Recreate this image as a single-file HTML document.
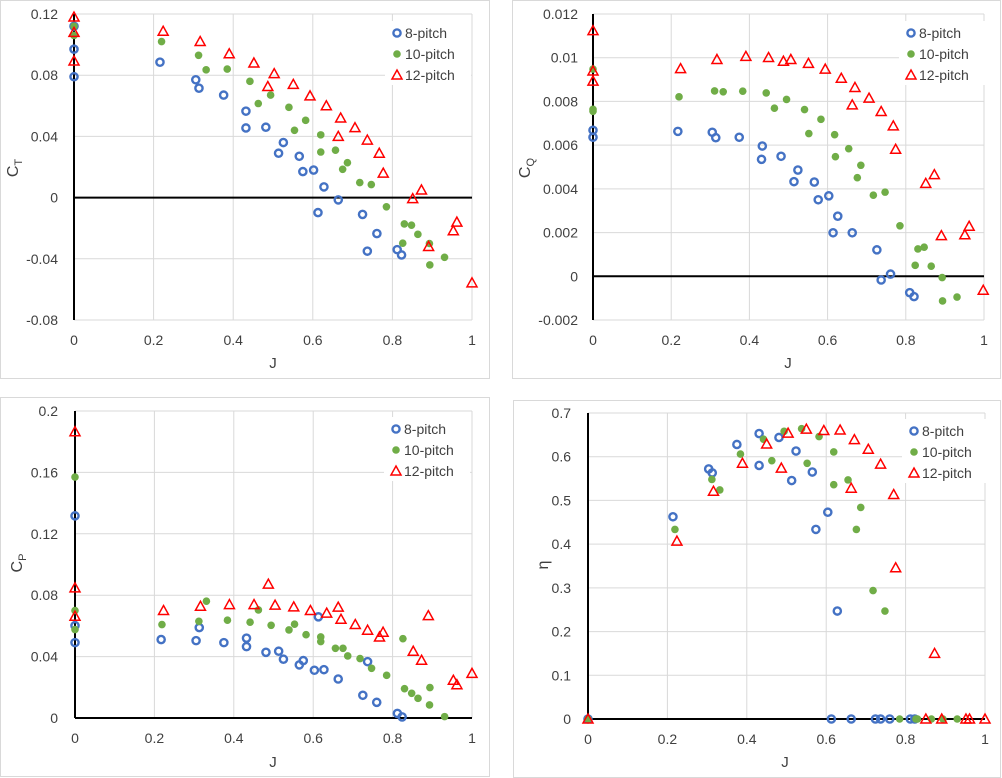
<!DOCTYPE html>
<html><head><meta charset="utf-8"><style>
html,body{margin:0;padding:0;background:#fff;}
svg{display:block;font-family:"Liberation Sans",Calibri,sans-serif;}
</style></head><body>
<svg id="root" width="1002" height="778" viewBox="0 0 1002 778" xmlns="http://www.w3.org/2000/svg"></svg>
<script>
// ---- CT chart data ----
const ctB_J=[0,0,0,.216,.306,.314,.376,.432,.432,.482,.514,.526,.566,.575,.602,.628,.613,.664,.725,.737,.761,.812,.823];
const ctB_V=[.112,.097,.079,.0885,.077,.0715,.067,.0565,.0455,.046,.029,.036,.027,.017,.018,.007,-.0098,-.0015,-.011,-.035,-.0235,-.034,-.0375];
const ctG_J=[0,0,.22,.313,.332,.385,.442,.463,.494,.540,.554,.582,.620,.620,.657,.675,.687,.718,.747,.785,.830,.848,.826,.864,.893,.894,.931];
const ctG_V=[.112,.106,.102,.093,.0835,.084,.076,.0615,.067,.059,.044,.0505,.041,.0298,.031,.0185,.0228,.0098,.0085,-.006,-.0172,-.018,-.0298,-.024,-.030,-.044,-.039];
const ctR_J=[0,0,0,.224,.317,.390,.452,.487,.503,.551,.593,.634,.670,.664,.706,.737,.767,.777,.851,.873,.891,.953,.962,1.0];
const ctR_V=[.118,.108,.0893,.1087,.102,.094,.088,.0726,.081,.074,.0665,.060,.052,.040,.0457,.0376,.029,.016,-.0007,.005,-.032,-.0217,-.016,-.0557];
const ctTicks=["-0.08","-0.04","0","0.04","0.08","0.12"];
// ---- CQ chart data ----
const cqB_J=[0,0,.217,.305,.314,.374,.433,.431,.481,.524,.514,.566,.576,.603,.626,.614,.663,.726,.737,.761,.810,.821];
const cqB_V=[.00668,.00636,.00663,.00659,.00634,.00636,.00596,.00535,.00549,.00486,.00433,.00431,.0035,.00368,.00275,.00199,.00199,.00121,-.00017,.0001,-.00075,-.00093];
const cqG_J=[0,0,0,.220,.311,.333,.383,.443,.464,.495,.541,.552,.583,.618,.620,.654,.676,.685,.717,.747,.785,.831,.847,.824,.865,.893,.894,.931];
const cqG_V=[.00948,.00764,.00755,.00821,.00848,.00844,.00847,.00839,.00769,.00809,.00763,.00653,.00718,.00648,.00547,.00584,.00451,.00508,.00371,.00385,.00231,.00125,.00133,.0005,.00046,-.00006,-.00113,-.00095];
const cqR_J=[0,0,0,.224,.317,.391,.449,.487,.506,.551,.594,.635,.670,.663,.706,.737,.768,.774,.851,.873,.891,.951,.962,.998];
const cqR_V=[.01124,.00939,.00893,.0095,.00992,.01006,.01001,.00984,.00992,.00974,.00948,.00906,.00864,.00784,.00815,.00754,.00688,.00581,.00425,.00465,.00186,.0019,.00229,-.00064];
const cqTicks=["-0.002","0","0.002","0.004","0.006","0.008","0.01","0.012"];
// ---- CP chart data ----
const cpB_J=[0,0,0,.217,.305,.313,.375,.432,.432,.481,.513,.525,.565,.575,.603,.627,.613,.663,.725,.737,.760,.812,.824];
const cpB_V=[.1317,.0602,.0491,.0511,.0504,.0589,.0491,.052,.0465,.0428,.0435,.0383,.0346,.0374,.0311,.0315,.0659,.0254,.0148,.0367,.0102,.003,.0007];
const cpG_J=[0,0,0,.219,.312,.331,.384,.441,.462,.494,.539,.553,.582,.619,.619,.656,.675,.687,.718,.747,.785,.826,.830,.848,.864,.893,.894,.931];
const cpG_V=[.157,.070,.0576,.0609,.063,.0761,.0637,.0624,.0704,.0604,.0574,.0611,.0543,.0528,.0498,.0454,.0454,.0404,.0387,.0324,.0278,.0517,.0191,.0161,.0128,.0085,.0198,.0009];
const cpR_J=[0,0,0,.223,.316,.389,.451,.487,.504,.551,.593,.634,.663,.670,.706,.737,.767,.776,.852,.873,.890,.953,.962,1.0];
const cpR_V=[.1865,.0848,.0663,.070,.0728,.0739,.0739,.0872,.0735,.0724,.070,.0683,.0722,.0643,.0609,.0572,.0528,.0559,.0435,.0376,.0667,.0246,.0217,.0291];
const cpTicks=["0","0.04","0.08","0.12","0.16","0.2"];
// ---- efficiency chart data ----
const etB_J=[0,.214,.304,.313,.375,.431,.431,.481,.513,.524,.565,.574,.604,.628,.613,.663,.724,.737,.760,.812,.823];
const etB_V=[0,.4626,.572,.563,.628,.653,.58,.644,.5455,.613,.565,.4337,.473,.247,0,0,0,0,0,0,0];
const etG_J=[0,.219,.312,.332,.384,.442,.463,.494,.538,.552,.582,.619,.619,.655,.676,.687,.718,.748,.785,.826,.830,.865,.894,.930];
const etG_V=[0,.4337,.548,.524,.606,.640,.591,.658,.664,.585,.646,.611,.536,.547,.4337,.484,.2937,.247,0,0,0,0,0,0];
const etR_J=[0,.224,.316,.389,.450,.487,.504,.550,.594,.635,.671,.663,.706,.737,.770,.775,.851,.873,.891,.952,.961,1.0];
const etR_V=[0,.407,.521,.585,.629,.574,.654,.663,.660,.661,.639,.528,.617,.583,.5136,.346,0,.150,0,0,0,0];
const etTicks=["0","0.1","0.2","0.3","0.4","0.5","0.6","0.7"];
const xTicks=["0","0.2","0.4","0.6","0.8","1"];

const NS="http://www.w3.org/2000/svg";
const root=document.getElementById('root');
function mk(tag,attrs,parent){const e=document.createElementNS(NS,tag);for(const k in attrs)e.setAttribute(k,attrs[k]);(parent||root).appendChild(e);return e;}

function drawChart(c){
  const g=mk('g',{});
  
  
  const panel=mk('rect',{x:c.panel[0]+.5,y:c.panel[1]+.5,width:c.panel[2],height:c.panel[3],fill:'#fff',stroke:'#d9d9d9','stroke-width':1},g);
  
  
  const xs=v=>c.x0+(c.x1-c.x0)*v;
  const ys=v=>c.yb+(c.yt-c.yb)*(v-c.ymin)/(c.ymax-c.ymin);
  // grid
  c.yticks.forEach(t=>{const v=parseFloat(t);
    const l=mk('line',{x1:c.x0,x2:c.x1,y1:ys(v),y2:ys(v),stroke:'#d9d9d9','stroke-width':1},g);
    
    
    const tx=mk('text',{x:c.ylabX,y:ys(v)+5,'text-anchor':'end','font-size':14,fill:'#404040'},g);
    tx.textContent=t;
    
    
  });
  xTicks.forEach(t=>{const v=parseFloat(t);
    const l=mk('line',{x1:xs(v),x2:xs(v),y1:c.yt,y2:c.yb,stroke:'#d9d9d9','stroke-width':1},g);
    
    
    const tx=mk('text',{x:xs(v),y:c.xlabY,'text-anchor':'middle','font-size':14,fill:'#404040'},g);
    tx.textContent=t;
    
    
  });
  // axes
  const xa=mk('line',{x1:c.x0,x2:c.x1,y1:ys(0),y2:ys(0),stroke:'#000','stroke-width':2},g);
  
  
  const ya=mk('line',{x1:xs(0),x2:xs(0),y1:c.yt,y2:c.yb,stroke:'#000','stroke-width':2},g);
  
  
  // titles
  const xt=mk('text',{x:c.xTitle[0],y:c.xTitle[1],'text-anchor':'middle','font-size':15,fill:'#404040'},g);
  xt.textContent='J';
  
  
  const yt=mk('text',{x:0,y:0,'text-anchor':'middle','font-size':16,fill:'#404040',transform:`translate(${c.yTitle[0]},${c.yTitle[1]}) rotate(-90)`},g);
  
  
  if(c.sub){const a=mk('tspan',{},yt);a.textContent='C';const b=mk('tspan',{'font-size':11,dy:4},yt);b.textContent=c.sub;}
  else yt.textContent='η';
  // series
  const drawMarker=(type,px,py,par)=>{
    let m;
    if(type==='b') m=mk('circle',{cx:px,cy:py,r:3.6,fill:'none',stroke:'#4472c4','stroke-width':2.4},par);
    else if(type==='g') m=mk('circle',{cx:px,cy:py,r:3.8,fill:'#70ad47'},par);
    else m=mk('polygon',{points:`${px},${py-5} ${px+5},${py+4} ${px-5},${py+4}`,fill:'none',stroke:'#ff0000','stroke-width':1.5},par);
    return m;
  };
  c.series.forEach(s=>{
    const sg=mk('g',{},g);
    
    
    s.J.forEach((j,i)=>{
      const m=drawMarker(s.type,xs(j),ys(s.V[i]),sg);
      
      
    });
  });
  // legend
  const lg=mk('g',{},g);
  
  
  mk('rect',{x:c.leg[0]-12,y:c.leg[1]-12,width:86,height:64,fill:'#fff'},lg);
  c.series.forEach((s,i)=>{
    const yy=c.leg[1]+i*21;
    const e=mk('g',{},lg);
    
    
    drawMarker(s.type,c.leg[0],yy,e);
    const t=mk('text',{x:c.leg[0]+8,y:yy+5,'font-size':14,fill:'#404040'},e);
    t.textContent=s.label;
  });
}

drawChart({name:'thrust-coefficient-chart',panel:[0,0,489,378],x0:74,x1:472,yt:14,yb:320,ymin:-.08,ymax:.12,yticks:ctTicks,ylabX:58,xlabY:345,xTitle:[273,368],yTitle:[18,168],sub:'T',leg:[397,33],
  series:[{label:'8-pitch',type:'b',J:ctB_J,V:ctB_V},{label:'10-pitch',type:'g',J:ctG_J,V:ctG_V},{label:'12-pitch',type:'r',J:ctR_J,V:ctR_V}]});
drawChart({name:'torque-coefficient-chart',panel:[512,0,488,378],x0:593,x1:984,yt:14,yb:320,ymin:-.002,ymax:.012,yticks:cqTicks,ylabX:578,xlabY:345,xTitle:[788,368],yTitle:[530,168],sub:'Q',leg:[911,33],
  series:[{label:'8-pitch',type:'b',J:cqB_J,V:cqB_V},{label:'10-pitch',type:'g',J:cqG_J,V:cqG_V},{label:'12-pitch',type:'r',J:cqR_J,V:cqR_V}]});
drawChart({name:'power-coefficient-chart',panel:[0,397,489,379],x0:75,x1:472,yt:411,yb:718,ymin:0,ymax:.2,yticks:cpTicks,ylabX:58,xlabY:743,xTitle:[273,767],yTitle:[22,563],sub:'P',leg:[396,429],
  series:[{label:'8-pitch',type:'b',J:cpB_J,V:cpB_V},{label:'10-pitch',type:'g',J:cpG_J,V:cpG_V},{label:'12-pitch',type:'r',J:cpR_J,V:cpR_V}]});
drawChart({name:'efficiency-chart',panel:[513,400,487,377],x0:588,x1:985,yt:413,yb:719,ymin:0,ymax:.7,yticks:etTicks,ylabX:571,xlabY:744,xTitle:[785,767],yTitle:[548,565],sub:null,leg:[914,431],
  series:[{label:'8-pitch',type:'b',J:etB_J,V:etB_V},{label:'10-pitch',type:'g',J:etG_J,V:etG_V},{label:'12-pitch',type:'r',J:etR_J,V:etR_V}]});
</script>
</body></html>
